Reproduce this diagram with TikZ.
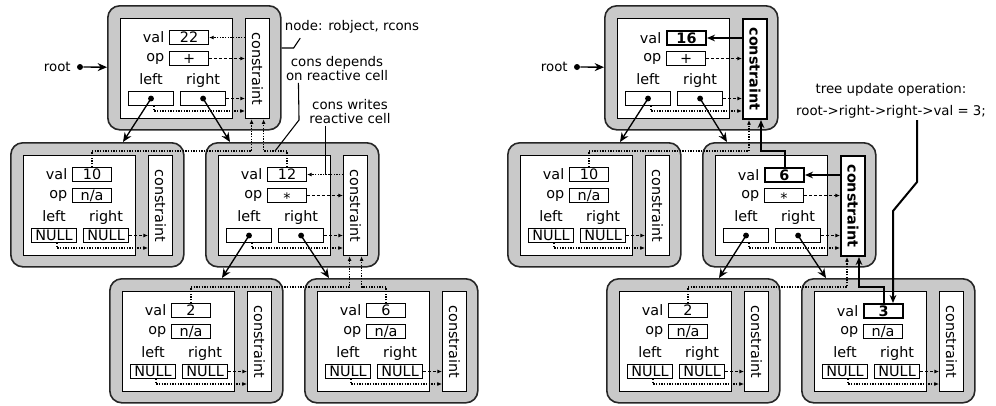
\documentclass[tikz,border=0pt]{standalone}
\usepackage{fontspec}
\setmainfont{DejaVu Sans}
\usepackage{graphicx}
\usetikzlibrary{arrows.meta,positioning,calc}

\colorlet{shellgray}{black!21}

% one tree node: name, top left corner, val, op, pointer text, val style, constraint style
\newcommand{\treenode}[7]{
  \node[shellbox] (#1) at (#2) {};
  \node[bodybox] (#1-in) at ($(#1.north west)+(13,13)$) {};
  \node[consbox, #7] (#1-c) at ($(#1.north west)+(138,13)$) {\rotatebox{-90}{constraint}};
  \node[valbox, #6] (#1-v) at ($(#1.north west)+(62,25)$) {#3};
  \node[valbox] (#1-o) at ($(#1.north west)+(62,46)$) {#4};
  \node[ptrbox] (#1-l) at ($(#1.north west)+(21,86)$) {#5};
  \node[ptrbox, right=4.5pt of #1-l] (#1-r) {#5};
  \node[fieldname, left=0pt of #1-v] (#1-vl) {val};
  \node[fieldname, left=0pt of #1-o] (#1-ol) {op};
  \node[fieldlbl, above=2pt of #1-l] (#1-ll) {left};
  \node[fieldlbl, above=2pt of #1-r] (#1-rl) {right};
  \draw[cellarrow] (#1-r) -- (#1-r -| #1-c.west);
  \draw[depline] ($(#1-l.south)+(3,0)$) |- ($(#1-c.west |- #1.north)+(0,106)$);
}

% links of a node with children: name, write style, left child, right child
\newcommand{\innerlinks}[4]{
  \draw[cellarrow] (#1-o) -- (#1-o -| #1-c.west);
  \draw[#2] (#1-v -| #1-c.west) -- (#1-v) coordinate[midway] (#1-w);
  \fill (#1-l.center) circle[radius=2.2pt] (#1-r.center) circle[radius=2.2pt];
  \draw[ptr] (#1-l.center) -- ($(#3.north west)+(113,0)$);
  \draw[ptr] (#1-r.center) -- ($(#4.north west)+(25,0)$);
}

\begin{document}
\begin{tikzpicture}[
    x=0.75pt, y=-0.75pt,
    font=\fontsize{10pt}{10.5pt}\selectfont,
    fieldname/.style={font=\fontsize{10.8pt}{12pt}\selectfont},
    shellbox/.style={draw=black!85, line width=1.2pt, fill=shellgray, rounded corners=9pt, minimum width=129.75pt, minimum height=93pt, anchor=north west, inner sep=0pt},
    bodybox/.style={draw, fill=white, line width=0.9pt, minimum width=84pt, minimum height=75pt, anchor=north west, inner sep=0pt},
    consbox/.style={fieldname, draw, fill=white, line width=0.9pt, minimum width=18pt, minimum height=75pt, anchor=north west, inner sep=0pt},
    valbox/.style={fieldname, draw, fill=white, line width=0.8pt, minimum width=29.25pt, minimum height=10.5pt, anchor=north west, inner sep=0pt, text height=7.8pt, text depth=0pt},
    ptrbox/.style={valbox, minimum width=33.75pt},
    fieldlbl/.style={fieldname, inner sep=1pt, text height=8pt, text depth=2pt},
    hot/.style={line width=1.5pt, font=\fontsize{10.8pt}{12pt}\selectfont\bfseries},
    cellarrow/.style={-{Latex[length=3.5pt,width=3pt]}, line width=0.9pt, dash pattern=on 2.2pt off 1.5pt},
    depline/.style={-{Latex[length=3.5pt,width=3pt]}, line width=0.9pt, dash pattern=on 1pt off 1pt},
    hotline/.style={-{Stealth[length=6pt,width=5pt]}, line width=1.5pt},
    ptr/.style={-{Stealth[length=7pt,width=6pt]}, line width=1pt},
    dot/.style={circle, fill, inner sep=0pt, minimum size=4.5pt},
    callout/.style={line width=0.8pt},
    note/.style={align=center, inner sep=1pt}
]
\useasboundingbox (0,0) rectangle (996,405);

% Tree before the update
\treenode{Atop}{107,5}{22}{+}{}{}{}
\treenode{Aleft}{10,142}{10}{n/a}{NULL}{}{}
\treenode{Aright}{205,142}{12}{\raisebox{-2pt}{*}}{}{}{}
\treenode{Arl}{109,278}{2}{n/a}{NULL}{}{}
\treenode{Arr}{304,278}{6}{n/a}{NULL}{}{}

% Tree after the update
\treenode{Btop}{604,5}{16}{+}{}{hot}{hot}
\treenode{Bleft}{507,142}{10}{n/a}{NULL}{}{}
\treenode{Bright}{702,142}{6}{\raisebox{-2pt}{*}}{}{hot}{hot}
\treenode{Brl}{606,278}{2}{n/a}{NULL}{}{}
\treenode{Brr}{801,278}{3}{n/a}{NULL}{hot}{}

% Inner node links
\innerlinks{Atop}{depline}{Aleft}{Aright}
\innerlinks{Aright}{depline}{Arl}{Arr}
\innerlinks{Btop}{hotline}{Bleft}{Bright}
\innerlinks{Bright}{hotline}{Brl}{Brr}

% Root pointers
\node[dot] (Aroot) at (80,67) {};
\node[left=1pt of Aroot] (Arootlbl) {root};
\draw[ptr] (Aroot) -- (Atop);
\node[dot] (Broot) at (577,67) {};
\node[left=1pt of Broot] (Brootlbl) {root};
\draw[ptr] (Broot) -- (Btop);

% Constraint dependencies on child cells
\draw[depline] (Aleft-v.north) -- ++(0,-16) -| ($(Atop-c.south)+(-6,0)$);
\draw[depline] (Aright-v.north) -- ++(0,-16) coordinate (Abend) -| ($(Atop-c.south)+(6,0)$);
\draw[depline] (Arl-v.north) -- ++(0,-16) -| ($(Aright-c.south)+(-6,0)$);
\draw[depline] (Arr-v.north) -- ++(0,-16) -| ($(Aright-c.south)+(6,0)$);

\draw[depline] (Bleft-v.north) -- ++(0,-16) -| ($(Btop-c.south)+(-6,0)$);
\draw[hotline] (Bright-v.north) -- ++(0,-16) -| ($(Btop-c.south)+(6,0)$);
\draw[depline] (Brl-v.north) -- ++(0,-16) -| ($(Bright-c.south)+(-6,0)$);
\draw[hotline] (Brr-v.north) -- ++(0,-16) -| ($(Bright-c.south)+(6,0)$);

% Notes
\node[note] (Anote) at (352,27) {node: robject, rcons};
\draw[callout] ($(Atop.north east)+(0,43)$) -- ++(12,0) -- ($(Anote.south west)+(17,3)$);

\node[note] (Adep) at (337,69) {cons depends\\on reactive cell};
\draw[callout] ($(Adep.south west)+(14,0)$) -- ($(Abend)+(12,-31)$) -- ($(Abend)+(-12,0)$);

\node[note] (Awrite) at (350,112) {cons writes\\reactive cell};
\draw[callout] (Awrite.south -| Aright-w) -- (Aright-w);

\node[note] (Bnote) at (891,101) {tree update operation:\\[6pt]root->right->right->val = 3;};
\draw[hotline] ($(Bnote.south)+(26,0)$) -- ++(0,62) -- ($(Brr-v.north west)+(30,-92)$) -- ($(Brr-v.north west)+(30,0)$);

\end{tikzpicture}
\end{document}
